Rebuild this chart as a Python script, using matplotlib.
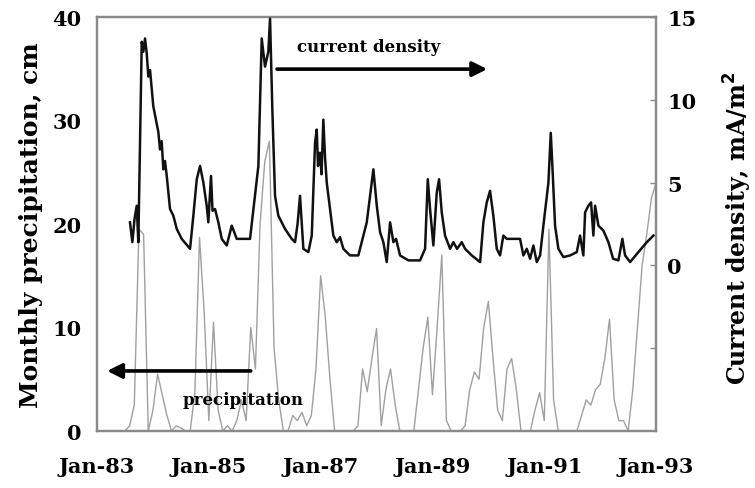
import matplotlib
matplotlib.use("Agg")
import matplotlib.pyplot as plt
import numpy as np

# Monthly precipitation (cm), Jan 1983 .. Jan 1993
precip_cm = [
    0, 0, 0, 0, 0, 0, 0, 0.5, 2.5, 19.5, 19, 0,          # 1983
    2, 5.5, 3.5, 1.5, 0, 0.5, 0.3, 0, 0, 3.7, 18.7, 11.5,  # 1984
    1, 10.5, 2, 0, 0.5, 0, 1, 3, 1, 10, 6, 20,           # 1985
    26, 28, 8, 3, 0, 0, 1.5, 1, 1.8, 0.5, 1.5, 6,        # 1986
    15, 11, 5, 0, 0, 0, 0, 0, 0.5, 6, 3.8, 7,            # 1987
    9.9, 0.5, 4, 6, 2.5, 0, 0, 0, 0, 4, 8, 11,           # 1988
    3.5, 10, 17, 1, 0, 0, 0, 0.5, 4, 5.7, 5, 10,         # 1989
    12.5, 7, 2, 1, 6, 7, 4, 0, 0, 0, 2, 3.7,             # 1990
    1, 19.5, 3, 0, 0, 0, 0, 0, 1.5, 3, 2.5, 4,           # 1991
    4.5, 7, 10.8, 3, 1, 1, 0, 4, 10, 16, 19, 22.5,       # 1992
    24,                                                  # Jan 1993
]
precip_time = 1983 + np.arange(len(precip_cm)) / 12.0

# Current density (mA/m^2) sampled in decimal years
cd_time = [
    1983.590, 1983.632, 1983.671, 1983.710, 1983.739, 1983.800, 1983.828, 1983.859,
    1983.889, 1983.918, 1983.948, 1984.007, 1984.097, 1984.127, 1984.157, 1984.186,
    1984.216, 1984.247, 1984.306, 1984.365, 1984.426, 1984.515, 1984.664, 1984.723,
    1984.784, 1984.843, 1984.902, 1984.962, 1984.991, 1985.039, 1985.066, 1985.111,
    1985.170, 1985.231, 1985.320, 1985.410, 1985.499, 1985.589, 1985.737, 1985.826,
    1985.886, 1985.946, 1986.005, 1986.064, 1986.095, 1986.136, 1986.184, 1986.243,
    1986.363, 1986.483, 1986.542, 1986.587, 1986.631, 1986.691, 1986.780, 1986.841,
    1986.900, 1986.930, 1986.953, 1986.989, 1987.016, 1987.048, 1987.079, 1987.109,
    1987.168, 1987.227, 1987.288, 1987.347, 1987.406, 1987.526, 1987.674, 1987.825,
    1987.943, 1988.004, 1988.063, 1988.122, 1988.182, 1988.242, 1988.301, 1988.349,
    1988.420, 1988.569, 1988.778, 1988.868, 1988.916, 1988.957, 1989.016, 1989.077,
    1989.118, 1989.166, 1989.225, 1989.315, 1989.374, 1989.440, 1989.524, 1989.583,
    1989.703, 1989.852, 1989.911, 1989.971, 1990.030, 1990.089, 1990.150, 1990.209,
    1990.268, 1990.329, 1990.537, 1990.567, 1990.626, 1990.687, 1990.746, 1990.805,
    1990.866, 1990.925, 1990.984, 1991.045, 1991.074, 1991.116, 1991.145, 1991.193,
    1991.252, 1991.342, 1991.462, 1991.581, 1991.640, 1991.699, 1991.730, 1991.789,
    1991.837, 1991.878, 1991.909, 1991.968, 1992.057, 1992.147, 1992.231, 1992.326,
    1992.397, 1992.445, 1992.535, 1992.683, 1992.834, 1992.952,
]
current_density = [
    2.6, 1.4, 2.8, 3.6, 1.4, 13.5, 12.9, 13.7,
    12.8, 11.4, 11.8, 9.6, 8.05, 7.0, 7.5, 5.8,
    6.3, 5.4, 3.4, 3.0, 2.2, 1.6, 1.0, 3.0,
    5.2, 6.0, 5.0, 3.6, 2.6, 5.4, 3.3, 3.4,
    2.6, 1.6, 1.2, 2.4, 1.6, 1.6, 1.6, 4.2,
    6.0, 13.7, 12.0, 12.9, 14.9, 9.4, 4.2, 3.0,
    2.2, 1.6, 1.4, 2.5, 4.2, 1.0, 0.8, 1.8,
    7.4, 8.2, 6.0, 6.8, 5.5, 8.8, 6.5, 5.0,
    3.4, 1.8, 1.4, 1.7, 1.0, 0.6, 0.6, 2.6,
    5.8, 3.6, 2.0, 1.4, 0.2, 2.6, 1.4, 1.6,
    0.6, 0.3, 0.3, 1.0, 5.2, 3.4, 1.2, 4.4,
    5.2, 3.2, 1.8, 1.0, 1.4, 1.0, 1.4, 1.0,
    0.6, 0.2, 2.6, 3.8, 4.5, 3.0, 1.0, 0.6,
    1.8, 1.6, 1.6, 1.6, 0.6, 1.0, 0.4, 1.2,
    0.2, 0.6, 2.4, 4.2, 5.0, 8.0, 6.0, 2.4,
    1.0, 0.5, 0.6, 0.8, 1.8, 0.6, 3.2, 3.6,
    3.8, 1.8, 3.6, 2.4, 2.1, 1.4, 0.4, 0.3,
    1.6, 0.6, 0.2, 0.8, 1.4, 1.8,
]

year_ticks = [1983, 1985, 1987, 1989, 1991, 1993]
year_labels = ["Jan-83", "Jan-85", "Jan-87", "Jan-89", "Jan-91", "Jan-93"]
precip_ticks = [0, 10, 20, 30, 40]
cd_ticks = [-5, 0, 5, 10, 15]
cd_labels = ["", "0", "5", "10", "15"]

plt.rcParams["font.family"] = ["DejaVu Serif"]
plt.rcParams["font.weight"] = "bold"

frame_color = "#8a8a8a"

fig = plt.figure(figsize=(7.55, 4.89), dpi=100)
ax = fig.add_axes([0.1285, 0.1166, 0.7405, 0.8467])
ax2 = ax.twinx()

ax.plot(precip_time, precip_cm, color="#a0a0a0", lw=1.0, zorder=2)
ax2.plot(cd_time, current_density, color="#111111", lw=1.8, zorder=3)

ax.set_xlim(1983, 1993)
ax.set_ylim(0, 40)
ax2.set_ylim(-10, 15)

ax.set_xticks(year_ticks)
ax.set_xticklabels(year_labels)
ax.set_yticks(precip_ticks)
ax2.set_yticks(cd_ticks)
ax2.set_yticklabels(cd_labels)

ax.tick_params(axis="x", length=0, pad=18, labelsize=15)
ax.tick_params(axis="y", length=0, pad=11, labelsize=15)
ax2.tick_params(axis="y", direction="in", length=4, width=1, color=frame_color,
                pad=8, labelsize=15)

for a in (ax, ax2):
    for s in a.spines.values():
        s.set_color(frame_color)
        s.set_linewidth(1.6)

ax.set_ylabel("Monthly precipitation, cm", fontsize=18, fontweight="bold")
ax.yaxis.set_label_coords(-0.097, 0.5)
ax2.set_ylabel("Current density, mA/m$^\\mathbf{2}$", fontsize=17,
               fontweight="bold")
ax2.yaxis.set_label_coords(1.117, 0.493)

# Arrows pointing to the axis each series belongs to
arrow = dict(arrowstyle="-|>", lw=2.6, color="black", mutation_scale=22,
             shrinkA=0, shrinkB=0)
ax.annotate("", xy=(0.698, 0.874), xytext=(0.322, 0.874),
            xycoords="axes fraction", textcoords="axes fraction", arrowprops=arrow)
ax.text(0.485, 0.928, "current density", transform=ax.transAxes,
        ha="center", va="center", fontsize=12, fontweight="bold")
ax.annotate("", xy=(0.018, 0.145), xytext=(0.275, 0.145),
            xycoords="axes fraction", textcoords="axes fraction", arrowprops=arrow)
ax.text(0.261, 0.077, "precipitation", transform=ax.transAxes,
        ha="center", va="center", fontsize=12, fontweight="bold")

fig.savefig("out.png", dpi=100)
